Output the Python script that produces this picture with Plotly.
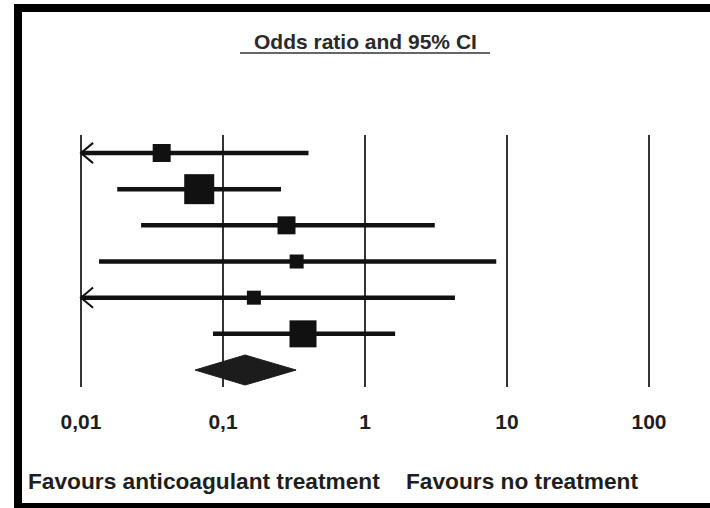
import math
import plotly.graph_objects as go

# ---------------- data ----------------
tick_values = [0.01, 0.1, 1, 10, 100]
tick_labels = ["0,01", "0,1", "1", "10", "100"]

odds_ratio = [0.037, 0.068, 0.28, 0.33, 0.165, 0.366]
ci_lower = [None, 0.018, 0.0265, 0.0134, None, 0.085]   # None = below 0.01 (arrow)
ci_upper = [0.40, 0.256, 3.1, 8.4, 4.3, 1.63]
study_weight = [18, 30, 18, 14, 14, 27]

pooled_or = 0.143
pooled_lower = 0.0636
pooled_upper = 0.327

title_text = "Odds ratio and 95% CI"
left_label = "Favours anticoagulant treatment"
right_label = "Favours no treatment"

# ---------------- geometry ----------------
W, H = 710, 508
INK = "#111111"
axis_min = tick_values[0]

def px_x(p):
    return p / W

def px_y(p):
    return 1 - p / H

fig = go.Figure()

rows = list(range(1, len(odds_ratio) + 1))
for r, orv, lo, hi in zip(rows, odds_ratio, ci_lower, ci_upper):
    lo_draw = lo if lo is not None else axis_min
    fig.add_trace(go.Scatter(x=[lo_draw, hi], y=[r, r], mode="lines",
                             line=dict(color=INK, width=4.5), hoverinfo="skip",
                             showlegend=False, cliponaxis=False))
    if lo is None:
        k = 10 ** 0.085
        fig.add_trace(go.Scatter(x=[axis_min * k, axis_min, axis_min * k],
                                 y=[r - 0.28, r, r + 0.28], mode="lines",
                                 line=dict(color=INK, width=2), hoverinfo="skip",
                                 showlegend=False, cliponaxis=False))

fig.add_trace(go.Scatter(x=odds_ratio, y=rows, mode="markers",
                         marker=dict(symbol="square", size=study_weight, color=INK,
                                     opacity=1, line=dict(width=0)),
                         showlegend=False, cliponaxis=False))

pooled_row = len(odds_ratio) + 1
half = 0.415
fig.add_trace(go.Scatter(x=[pooled_lower, pooled_or, pooled_upper, pooled_or, pooled_lower],
                         y=[pooled_row, pooled_row - half, pooled_row, pooled_row + half, pooled_row],
                         mode="lines", fill="toself", fillcolor="#1c1c1c",
                         line=dict(color="#1c1c1c", width=1), showlegend=False,
                         cliponaxis=False))

# x axis: 142 px per decade, 0.01 at x=81
x_lo = math.log10(axis_min) - 81 / 142
x_hi = math.log10(axis_min) + (W - 81) / 142

# y axis domain spans the vertical reference lines (px 135..387)
top_px, bot_px = 135, 387
row_px0, row_step = 153, 36.17
y_top = 1 + (top_px - row_px0) / row_step
y_bot = 1 + (bot_px - row_px0) / row_step

FONT = "Liberation Sans, Arial, sans-serif"
fig.update_layout(
    width=W, height=H,
    margin=dict(l=0, r=0, t=0, b=0),
    paper_bgcolor="white", plot_bgcolor="white",
    font=dict(family=FONT, color="#1e1e1e"),
    xaxis=dict(type="log", range=[x_lo, x_hi], domain=[0, 1],
               tickvals=tick_values, ticktext=tick_labels,
               showgrid=True, gridcolor="#333333", gridwidth=2.5,
               zeroline=False, showline=False, ticks="",
               ticklabelstandoff=20,
               tickfont=dict(size=21, family=FONT, color="#1e1e1e", weight="bold")),
    yaxis=dict(range=[y_bot, y_top], domain=[px_y(bot_px), px_y(top_px)],
               showgrid=False, zeroline=False, showticklabels=False, showline=False),
    showlegend=False,
)

# frame
frame = dict(type="rect", xref="paper", yref="paper", fillcolor="black",
             line=dict(width=0), layer="above")
fig.add_shape(**frame, x0=px_x(14), x1=px_x(22), y0=px_y(508), y1=px_y(4))
fig.add_shape(**frame, x0=px_x(14), x1=1, y0=px_y(12), y1=px_y(4))
fig.add_shape(**frame, x0=px_x(14), x1=1, y0=0, y1=px_y(503))

# title + underline
fig.add_annotation(text=title_text, xref="paper", yref="paper", x=px_x(365), y=px_y(42),
                   showarrow=False, xanchor="center", yanchor="middle",
                   font=dict(size=21, weight="bold", color="#2a2a2a"))
fig.add_shape(type="line", xref="paper", yref="paper", x0=px_x(240), x1=px_x(490),
              y0=px_y(53), y1=px_y(53), line=dict(color="#666666", width=2))

# bottom labels
fig.add_annotation(text=left_label, xref="paper", yref="paper", x=px_x(204), y=px_y(481),
                   showarrow=False, xanchor="center", yanchor="middle",
                   font=dict(size=22.7, weight="bold", color="#1e1e1e"))
fig.add_annotation(text=right_label, xref="paper", yref="paper", x=px_x(522), y=px_y(481),
                   showarrow=False, xanchor="center", yanchor="middle",
                   font=dict(size=22.7, weight="bold", color="#1e1e1e"))

fig.write_html("out.html", config={"displayModeBar": False, "staticPlot": True},
               post_script="document.body.style.margin='0px';document.body.style.overflow='hidden';")
